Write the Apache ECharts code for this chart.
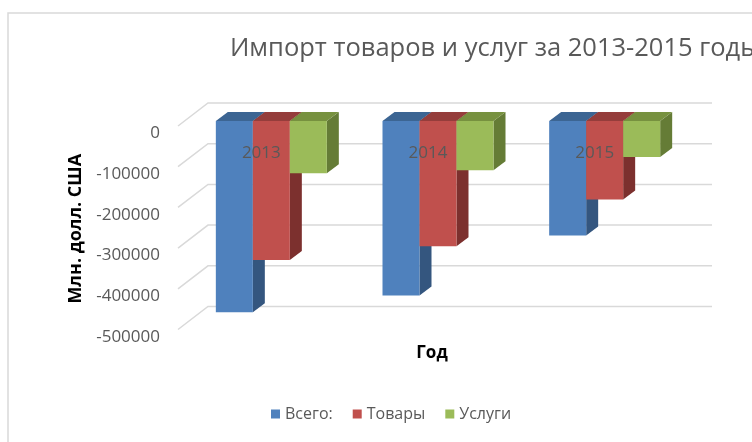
<!DOCTYPE html>
<html>
<head>
<meta charset="utf-8">
<script src="https://cdn.jsdelivr.net/npm/echarts@6/dist/echarts.min.js"></script>
<style>
  html, body { margin: 0; padding: 0; background: #fff; }
  #chart { width: 752px; height: 442px; }
</style>
</head>
<body>
<div id="chart"></div>
<script>
// data, mln USD
const years = ['2013', '2014', '2015'];
const total = [-469800, -428800, -281600];
const goods = [-341300, -307900, -193000];
const services = [-128500, -120900, -88600];
const yTicks = [0, -100000, -200000, -300000, -400000, -500000];
const names = ['Всего:', 'Товары', 'Услуги'];

const front = ['#4f81bd', '#c0504d', '#9bbb59'];
const topFace = ['#3c6593', '#953d3b', '#77913f'];
const sideFace = ['#34567f', '#7c302e', '#657c36'];

// fake 3d depth
const DX = 12, DY = -9;
const FONT = 'Open Sans';

let barItem = (k) => (params, api) => {
  const cat = api.value(0);
  const base = api.coord([cat, 0]);
  const end = api.coord([cat, api.value(1)]);
  const w = api.size([1, 0])[0] * 0.222;
  const x0 = base[0] - 1.5 * w + k * w;
  const x1 = x0 + w;
  const y0 = base[1], y1 = end[1];
  return {
    type: 'group',
    children: [
      { type: 'polygon', shape: { points: [[x1, y0], [x1 + DX, y0 + DY], [x1 + DX, y1 + DY], [x1, y1]] }, style: { fill: sideFace[k] } },
      { type: 'polygon', shape: { points: [[x0, y0], [x1, y0], [x1 + DX, y0 + DY], [x0 + DX, y0 + DY]] }, style: { fill: topFace[k] } },
      { type: 'rect', shape: { x: x0, y: y0, width: w, height: y1 - y0 }, style: { fill: front[k] } }
    ]
  };
};

let gridItem = (params, api) => {
  const y = api.coord([0, api.value(1)])[1];
  const cs = params.coordSys;
  return {
    type: 'polyline',
    silent: true,
    shape: { points: [[cs.x - 10, y + 5], [cs.x + 20, y - 18], [cs.x + cs.width + 24, y - 18]] },
    style: { stroke: '#d9d9d9', lineWidth: 1.5, fill: null }
  };
};

const chart = echarts.init(document.getElementById('chart'));

let option = {
  animation: false,
  textStyle: { fontFamily: FONT },
  title: [{
    text: 'Импорт товаров и услуг за 2013-2015 годы',
    left: 225,
    top: 31,
    textStyle: { fontFamily: FONT, fontSize: 25.5, fontWeight: 'normal', color: '#595959' }
  }, {
    text: 'Год',
    left: 427,
    textAlign: 'center',
    top: 340,
    textStyle: { fontFamily: FONT, fontSize: 17, fontWeight: 'bold', color: '#000' }
  }],
  graphic: [{
    type: 'rect',
    z: -10,
    shape: { x: 8, y: 13, width: 800, height: 500 },
    style: { fill: null, stroke: '#d9d9d9', lineWidth: 1.5 }
  }],
  legend: {
    data: names,
    left: 271,
    top: 406,
    padding: 0,
    icon: 'rect',
    itemWidth: 9,
    itemHeight: 9,
    itemGap: 20,
    textStyle: { fontFamily: FONT, fontSize: 16, color: '#595959' }
  },
  grid: { left: 188, top: 121, width: 500, height: 203.5 },
  xAxis: {
    type: 'category',
    data: years,
    position: 'top',
    z: 10,
    axisLine: { show: false },
    axisTick: { show: false },
    axisLabel: { inside: true, margin: 24, fontSize: 17, color: '#595959', padding: [0, 20, 0, 0] }
  },
  yAxis: {
    type: 'value',
    min: -500000,
    max: 0,
    interval: 100000,
    name: 'Млн. долл. США',
    nameLocation: 'middle',
    nameRotate: 90,
    nameGap: 97,
    nameTextStyle: { fontFamily: FONT, fontSize: 18, fontWeight: 'bold', color: '#000', padding: [0, 12, 0, 0] },
    axisLine: { show: false },
    axisTick: { show: false },
    splitLine: { show: false },
    axisLabel: {
      margin: 28,
      fontSize: 17,
      color: '#595959',
      verticalAlign: 'top',
      padding: [4, 0, 0, 0],
      formatter: (v) => String(v)
    }
  },
  series: [
    { type: 'custom', name: 'grid', renderItem: gridItem, data: yTicks.map(v => [0, v]), z: 1, silent: true },
    { type: 'custom', name: names[0], renderItem: barItem(0), itemStyle: { color: front[0] }, data: total.map((v, i) => [i, v]), z: 2 },
    { type: 'custom', name: names[1], renderItem: barItem(1), itemStyle: { color: front[1] }, data: goods.map((v, i) => [i, v]), z: 2 },
    { type: 'custom', name: names[2], renderItem: barItem(2), itemStyle: { color: front[2] }, data: services.map((v, i) => [i, v]), z: 2 }
  ]
};

chart.setOption(option);
</script>
</body>
</html>
